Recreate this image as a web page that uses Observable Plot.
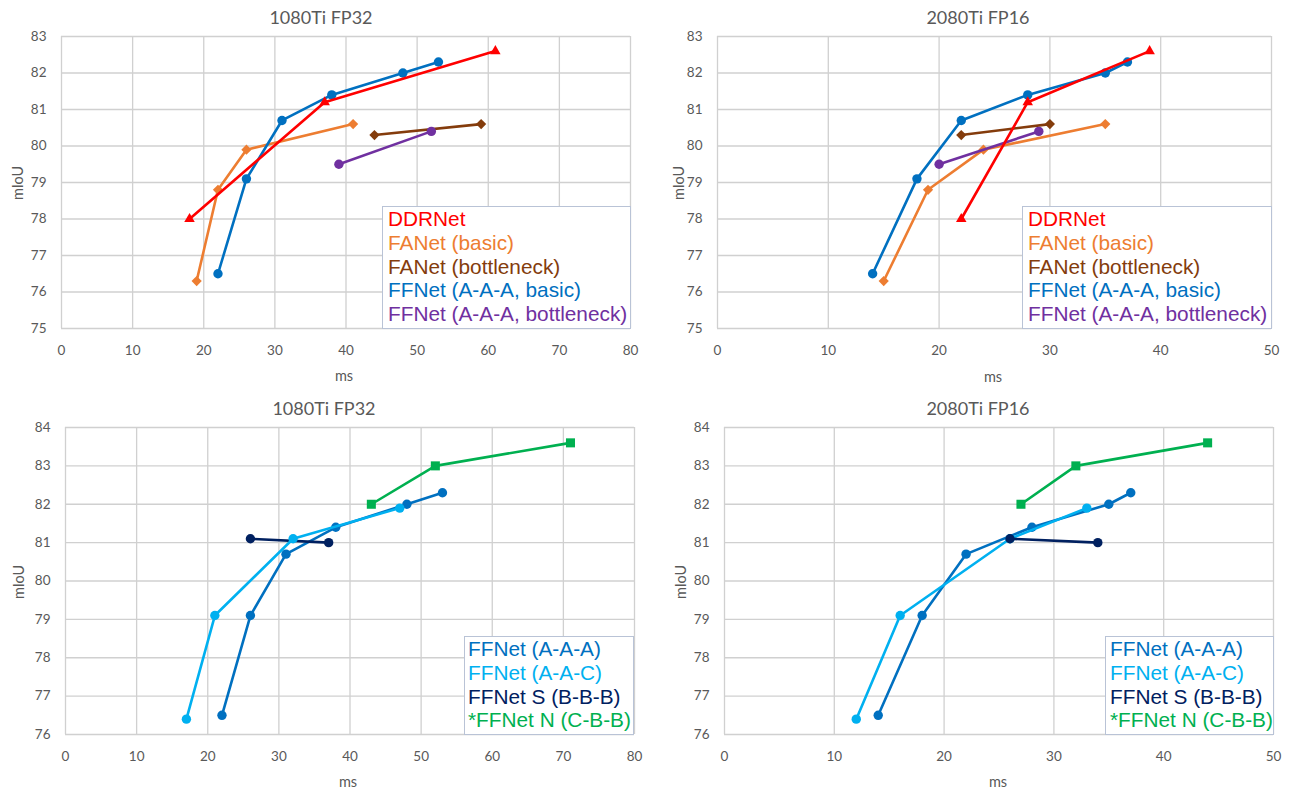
<!DOCTYPE html>
<html>
<head>
<meta charset="utf-8">
<script src="https://cdn.jsdelivr.net/npm/d3@7"></script>
<script src="https://cdn.jsdelivr.net/npm/@observablehq/plot@0.6"></script>
<style>
  html, body { margin: 0; padding: 0; background: #ffffff; }
  #root { position: relative; width: 1290px; height: 790px; overflow: hidden; background: #fff; }
  .chart { position: absolute; }
  .title { position: absolute; font-family: Lato, "Open Sans", sans-serif; font-size: 18px; color: #595959; transform: translate(-50%, -50%); white-space: nowrap; }
  .xlab { position: absolute; font-family: Lato, "Open Sans", sans-serif; font-size: 14.5px; color: #595959; transform: translate(-50%, -50%); white-space: nowrap; }
  .ylab { position: absolute; font-family: Lato, "Open Sans", sans-serif; font-size: 14.5px; color: #595959; transform: translate(-50%, -50%) rotate(-90deg); white-space: nowrap; }
  .legend { position: absolute; box-sizing: border-box; background: #fff; border: 1.5px solid #b9c3d6; font-family: "Liberation Sans", Arial, sans-serif; font-size: 20.8px; white-space: nowrap; }
  .legend div { height: 23.8px; line-height: 23.8px; }
</style>
</head>
<body>
<div id="root"></div>
<script>
// ---------- Data (ms, mIoU) ----------
// Top row series names / colours
const topNames = ["DDRNet", "FANet (basic)", "FANet (bottleneck)", "FFNet (A-A-A, basic)", "FFNet (A-A-A, bottleneck)"];
const topColors = ["#ff0000", "#ed7d31", "#843c0c", "#0070c0", "#7030a0"];
const topSymbols = ["triangle", "diamond2", "diamond2", "circle", "circle"];

// 1080Ti FP32 (top left)
const ddrnet1080 = [[18, 78.0], [37, 81.2], [61, 82.6]];
const fanetBasic1080 = [[19, 76.3], [22, 78.8], [26, 79.9], [41, 80.6]];
const fanetBottle1080 = [[44, 80.3], [59, 80.6]];
const ffnetBasic1080 = [[22, 76.5], [26, 79.1], [31, 80.7], [38, 81.4], [48, 82.0], [53, 82.3]];
const ffnetBottle1080 = [[39, 79.5], [52, 80.4]];

// 2080Ti FP16 (top right)
const ddrnet2080 = [[22, 78.0], [28, 81.2], [39, 82.6]];
const fanetBasic2080 = [[15, 76.3], [19, 78.8], [24, 79.9], [35, 80.6]];
const fanetBottle2080 = [[22, 80.3], [30, 80.6]];
const ffnetBasic2080 = [[14, 76.5], [18, 79.1], [22, 80.7], [28, 81.4], [35, 82.0], [37, 82.3]];
const ffnetBottle2080 = [[20, 79.5], [29, 80.4]];

// Bottom row series names / colours
const botNames = ["FFNet (A-A-A)", "FFNet (A-A-C)", "FFNet S (B-B-B)", "*FFNet N (C-B-B)"];
const botColors = ["#0070c0", "#00b0f0", "#002060", "#00b050"];
const botSymbols = ["circle", "circle", "circle", "square"];

// 1080Ti FP32 (bottom left)
const aaa1080 = [[22, 76.5], [26, 79.1], [31, 80.7], [38, 81.4], [48, 82.0], [53, 82.3]];
const aac1080 = [[17, 76.4], [21, 79.1], [32, 81.1], [47, 81.9]];
const bbb1080 = [[26, 81.1], [37, 81.0]];
const cbb1080 = [[43, 82.0], [52, 83.0], [71, 83.6]];

// 2080Ti FP16 (bottom right)
const aaa2080 = [[14, 76.5], [18, 79.1], [22, 80.7], [28, 81.4], [35, 82.0], [37, 82.3]];
const aac2080 = [[12, 76.4], [16, 79.1], [26, 81.1], [33, 81.9]];
const bbb2080 = [[26, 81.1], [34, 81.0]];
const cbb2080 = [[27, 82.0], [32, 83.0], [44, 83.6]];

// Axis ticks
const xTicks1080 = [0, 10, 20, 30, 40, 50, 60, 70, 80];
const xTicks2080 = [0, 10, 20, 30, 40, 50];
const yTicksTop = [75, 76, 77, 78, 79, 80, 81, 82, 83];
const yTicksBot = [76, 77, 78, 79, 80, 81, 82, 83, 84];

// ---------- Drawing ----------
const root = document.getElementById("root");

function rows(names, arrays) {
  return names.map((n, i) => arrays[i].map(([ms, miou]) => ({series: n, ms, miou})));
}

function chart(cfg) {
  const seriesRows = rows(cfg.names, cfg.data);
  const r = {circle: 4.7, triangle: 3.9, diamond2: 4.6, square: 5.1};
  const seriesMarks = cfg.order.flatMap(i => [
    Plot.line(seriesRows[i], {x: "ms", y: "miou", stroke: cfg.colors[i], strokeWidth: 2.6, strokeLinejoin: "round"}),
    Plot.dot(seriesRows[i], {x: "ms", y: "miou", fill: cfg.colors[i], stroke: "none", symbol: cfg.symbols[i], r: r[cfg.symbols[i]]})
  ]);
  const svg = Plot.plot({
    width: 645, height: 395,
    marginLeft: cfg.ml, marginRight: cfg.mr, marginTop: cfg.mt, marginBottom: cfg.mb,
    x: {domain: [cfg.xTicks[0], cfg.xTicks[cfg.xTicks.length - 1]]},
    y: {domain: [cfg.yTicks[0], cfg.yTicks[cfg.yTicks.length - 1]]},
    style: {fontFamily: "Lato, 'Open Sans', sans-serif", fontSize: "13.5px", color: "#595959", background: "transparent"},
    marks: [
      Plot.gridX(cfg.xTicks, {stroke: "#d0d0d0", strokeOpacity: 1, strokeWidth: 1.3}),
      Plot.gridY(cfg.yTicks, {stroke: "#d0d0d0", strokeOpacity: 1, strokeWidth: 1.3}),
      Plot.axisX(cfg.xTicks, {tickSize: 0, tickPadding: 17, label: null, fill: "#595959"}),
      Plot.axisY(cfg.yTicks, {tickSize: 0, tickPadding: 15, label: null, fill: "#595959"}),
      ...seriesMarks
    ]
  });
  svg.classList.add("chart");
  svg.style.left = cfg.left + "px";
  svg.style.top = cfg.top + "px";
  root.appendChild(svg);

  const t = document.createElement("div");
  t.className = "title"; t.textContent = cfg.title;
  t.style.left = cfg.titleXY[0] + "px"; t.style.top = cfg.titleXY[1] + "px";
  root.appendChild(t);

  const xl = document.createElement("div");
  xl.className = "xlab"; xl.textContent = "ms";
  xl.style.left = cfg.xlabXY[0] + "px"; xl.style.top = cfg.xlabXY[1] + "px";
  root.appendChild(xl);

  const yl = document.createElement("div");
  yl.className = "ylab"; yl.textContent = "mIoU";
  yl.style.left = cfg.ylabXY[0] + "px"; yl.style.top = cfg.ylabXY[1] + "px";
  root.appendChild(yl);

  const lg = document.createElement("div");
  lg.className = "legend";
  const [lx, ly, lw, lh, pl, pt] = cfg.legendBox;
  lg.style.left = lx + "px"; lg.style.top = ly + "px";
  lg.style.width = lw + "px"; lg.style.height = lh + "px";
  lg.style.paddingLeft = pl + "px"; lg.style.paddingTop = pt + "px";
  cfg.names.forEach((n, i) => {
    const d = document.createElement("div");
    d.textContent = n; d.style.color = cfg.colors[i];
    lg.appendChild(d);
  });
  root.appendChild(lg);
}

chart({
  title: "1080Ti FP32", names: topNames, colors: topColors, symbols: topSymbols,
  data: [ddrnet1080, fanetBasic1080, fanetBottle1080, ffnetBasic1080, ffnetBottle1080],
  order: [1, 2, 3, 4, 0],
  xTicks: xTicks1080, yTicks: yTicksTop,
  left: 0, top: 0, ml: 61, mr: 15, mt: 36, mb: 67,
  titleXY: [321, 17], xlabXY: [344, 375], ylabXY: [17, 183],
  legendBox: [382, 206, 249, 123, 5, 0]
});

chart({
  title: "2080Ti FP16", names: topNames, colors: topColors, symbols: topSymbols,
  data: [ddrnet2080, fanetBasic2080, fanetBottle2080, ffnetBasic2080, ffnetBottle2080],
  order: [1, 2, 3, 4, 0],
  xTicks: xTicks2080, yTicks: yTicksTop,
  left: 645, top: 0, ml: 72, mr: 19, mt: 36, mb: 67,
  titleXY: [978, 17], xlabXY: [993, 376], ylabXY: [678, 183],
  legendBox: [1022, 206, 250, 123, 5, 0]
});

chart({
  title: "1080Ti FP32", names: botNames, colors: botColors, symbols: botSymbols,
  data: [aaa1080, aac1080, bbb1080, cbb1080],
  order: [0, 2, 1, 3],
  xTicks: xTicks1080, yTicks: yTicksBot,
  left: 0, top: 395, ml: 65, mr: 11, mt: 32, mb: 56,
  titleXY: [324, 408], xlabXY: [348, 781], ylabXY: [18, 582],
  legendBox: [464, 636, 170, 99, 3, 0]
});

chart({
  title: "2080Ti FP16", names: botNames, colors: botColors, symbols: botSymbols,
  data: [aaa2080, aac2080, bbb2080, cbb2080],
  order: [0, 1, 2, 3],
  xTicks: xTicks2080, yTicks: yTicksBot,
  left: 645, top: 395, ml: 79, mr: 17, mt: 32, mb: 56,
  titleXY: [978, 408], xlabXY: [998, 781], ylabXY: [680, 582],
  legendBox: [1105, 636, 169, 99, 4, 0]
});
</script>
</body>
</html>
